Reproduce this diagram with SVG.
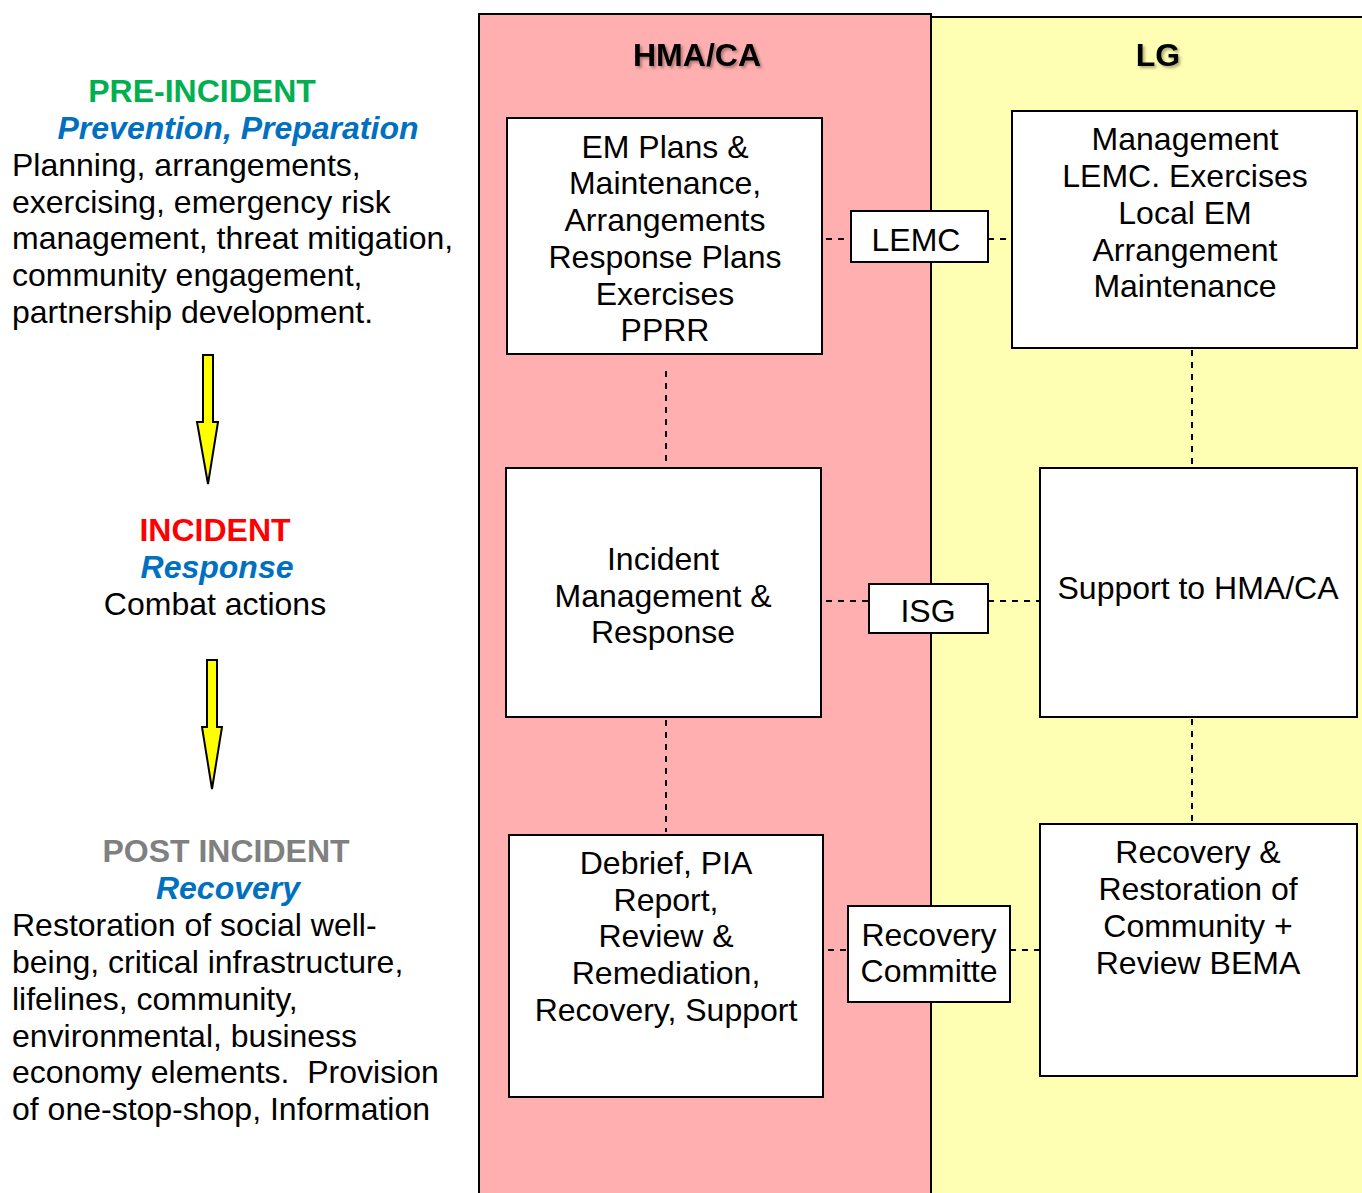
<svg xmlns="http://www.w3.org/2000/svg" width="1362" height="1193" viewBox="0 0 1362 1193">
<defs>
<filter id="sh" x="-20%" y="-20%" width="140%" height="160%">
<feDropShadow dx="2" dy="2" stdDeviation="1.5" flood-color="#000" flood-opacity="0.35"/>
</filter>
</defs>
<style>
text{font-family:"Liberation Sans",Arial,sans-serif;font-size:32px;fill:#000}
.c{text-anchor:middle}
.b{font-weight:bold}
.bi{font-weight:bold;font-style:italic;fill:#0070C0}
.box{fill:#fff;stroke:#000;stroke-width:2}
.dash{stroke:#000;stroke-width:2;stroke-dasharray:6 6;fill:none}
.arr{fill:#FFFF00;stroke:#000;stroke-width:2}
</style>
<rect width="1362" height="1193" fill="#fff"/>
<g id="lane-hma">
<rect x="479" y="14" width="452" height="1190" fill="#FFAFAF" stroke="#000" stroke-width="2"/>
<text class="c b" x="697" y="66" filter="url(#sh)">HMA/CA</text>
</g>
<g id="lane-lg">
<rect x="931" y="17" width="440" height="1190" fill="#FFFFB3" stroke="#000" stroke-width="2"/>
<text class="c b" x="1158" y="66" filter="url(#sh)">LG</text>
</g>
<g id="phase-pre">
<text class="c b" x="202" y="102" style="fill:#00B050">PRE-INCIDENT</text>
<text class="c bi" x="238" y="139">Prevention, Preparation</text>
<text x="12" y="176">Planning, arrangements,</text>
<text x="12" y="213">exercising, emergency risk</text>
<text x="12" y="249">management, threat mitigation,</text>
<text x="12" y="286">community engagement,</text>
<text x="12" y="323">partnership development.</text>
</g>
<g id="phase-incident">
<text class="c b" x="215" y="541" style="fill:#FF0000">INCIDENT</text>
<text class="c bi" x="217" y="578">Response</text>
<text class="c" x="215" y="615">Combat actions</text>
</g>
<g id="phase-post">
<text class="c b" x="226" y="862" style="fill:#808080">POST INCIDENT</text>
<text class="c bi" x="228" y="899">Recovery</text>
<text x="12" y="936">Restoration of social well-</text>
<text x="12" y="973">being, critical infrastructure,</text>
<text x="12" y="1010">lifelines, community,</text>
<text x="12" y="1047">environmental, business</text>
<text x="12" y="1083" xml:space="preserve">economy elements.  Provision</text>
<text x="12" y="1120">of one-stop-shop, Information</text>
</g>
<g id="arrow1">
<polygon class="arr" points="203,355 213,355 213,422 218,422 208,484 197,422 203,422"/>
</g>
<g id="arrow2">
<polygon class="arr" points="207,660 217,660 217,727 222,727 212,789 202,727 207,727"/>
</g>
<g id="connectors">
<line class="dash" x1="666" y1="371" x2="666" y2="466"/>
<line class="dash" x1="666" y1="720" x2="666" y2="832"/>
<line class="dash" x1="1192" y1="350" x2="1192" y2="467"/>
<line class="dash" x1="1192" y1="719" x2="1192" y2="822"/>
<line class="dash" x1="826" y1="239" x2="851" y2="239"/>
<line class="dash" x1="988" y1="239" x2="1012" y2="239"/>
<line class="dash" x1="826" y1="601" x2="869" y2="601"/>
<line class="dash" x1="988" y1="601" x2="1040" y2="601"/>
<line class="dash" x1="828" y1="950" x2="848" y2="950"/>
<line class="dash" x1="1010" y1="950" x2="1040" y2="950"/>
</g>
<g id="em-plans">
<rect class="box" x="507" y="118" width="315" height="236"/>
<text class="c" x="665" y="158">EM Plans &amp;</text>
<text class="c" x="665" y="194">Maintenance,</text>
<text class="c" x="665" y="231">Arrangements</text>
<text class="c" x="665" y="268">Response Plans</text>
<text class="c" x="665" y="305">Exercises</text>
<text class="c" x="665" y="341">PPRR</text>
</g>
<g id="management">
<rect class="box" x="1012" y="111" width="345" height="237"/>
<text class="c" x="1185" y="150">Management</text>
<text class="c" x="1185" y="187">LEMC. Exercises</text>
<text class="c" x="1185" y="224">Local EM</text>
<text class="c" x="1185" y="261">Arrangement</text>
<text class="c" x="1185" y="297">Maintenance</text>
</g>
<g id="lemc">
<rect class="box" x="851" y="211" width="137" height="51"/>
<text class="c" x="916" y="251">LEMC</text>
</g>
<g id="incident-mgmt">
<rect class="box" x="506" y="468" width="315" height="249"/>
<text class="c" x="663" y="570">Incident</text>
<text class="c" x="663" y="607">Management &amp;</text>
<text class="c" x="663" y="643">Response</text>
</g>
<g id="support">
<rect class="box" x="1040" y="468" width="317" height="249"/>
<text class="c" x="1198" y="599">Support to HMA/CA</text>
</g>
<g id="isg">
<rect class="box" x="869" y="584" width="119" height="49"/>
<text class="c" x="928" y="622">ISG</text>
</g>
<g id="debrief">
<rect class="box" x="509" y="835" width="314" height="262"/>
<text class="c" x="666" y="874">Debrief, PIA</text>
<text class="c" x="666" y="911">Report,</text>
<text class="c" x="666" y="947">Review &amp;</text>
<text class="c" x="666" y="984">Remediation,</text>
<text class="c" x="666" y="1021">Recovery, Support</text>
</g>
<g id="recovery-restoration">
<rect class="box" x="1040" y="824" width="317" height="252"/>
<text class="c" x="1198" y="863">Recovery &amp;</text>
<text class="c" x="1198" y="900">Restoration of</text>
<text class="c" x="1198" y="937">Community +</text>
<text class="c" x="1198" y="974">Review BEMA</text>
</g>
<g id="recovery-committe">
<rect class="box" x="848" y="906" width="162" height="96"/>
<text class="c" x="929" y="946">Recovery</text>
<text class="c" x="929" y="982">Committe</text>
</g>
</svg>
